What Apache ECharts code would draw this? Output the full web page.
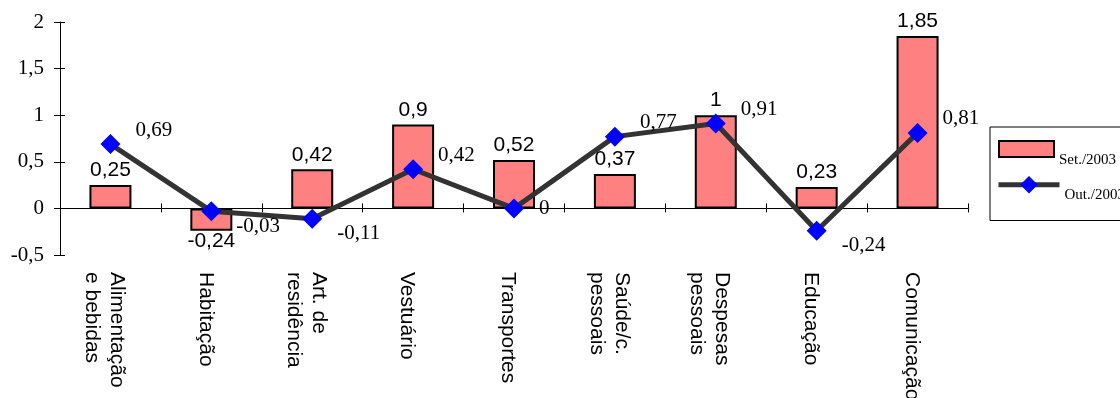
<!DOCTYPE html>
<html>
<head>
<meta charset="utf-8">
<script src="https://cdn.jsdelivr.net/npm/echarts@6/dist/echarts.min.js"></script>
<style>
html,body{margin:0;padding:0;background:#fff;}
#chart{width:1120px;height:398px;}
</style>
</head>
<body>
<div id="chart"></div>
<script>
const categories = ["Alimentação\ne bebidas", "Habitação", "Art. de\nresidência", "Vestuário", "Transportes", "Saúde/c.\npessoais", "Despesas\npessoais", "Educação", "Comunicação"];
const setValues = [0.25, -0.24, 0.42, 0.9, 0.52, 0.37, 1, 0.23, 1.85];
const outValues = [0.69, -0.03, -0.11, 0.42, 0, 0.77, 0.91, -0.24, 0.81];
const seriesNames = ["Set./2003", "Out./2003"];
const yTicks = {min: -0.5, max: 2, interval: 0.5};

const fmt = v => String(v).replace('.', ',');
const serif = '"Liberation Serif", "Times New Roman", serif';
const sans = '"Liberation Sans", Arial, sans-serif';

const chart = echarts.init(document.getElementById('chart'), null, {renderer: 'canvas'});
const grid = {left: 60, right: 152, top: 22, bottom: 143, containLabel: false, outerBoundsMode: 'none'};

const legendText = pad => ({
  fontFamily: serif, fontSize: 15, color: '#000',
  rich: {a: {fontFamily: serif, fontSize: 15, color: '#000', padding: [pad, 0, 0, 0]}}
});
const baseX = {type: 'category', data: categories, gridIndex: 0};
const option = {
  animation: false,
  backgroundColor: '#fff',
  grid: grid,
  legend: [
    {
      orient: 'vertical',
      left: 990, top: 127,
      padding: [13, 80, 53, 8],
      borderColor: '#000', borderWidth: 1,
      itemWidth: 55, itemHeight: 16, icon: 'rect',
      itemStyle: {borderWidth: 2, borderColor: '#000'},
      formatter: n => '{a|' + n + '}',
      textStyle: legendText(22),
      data: [seriesNames[0]]
    },
    {
      orient: 'vertical',
      left: 996, top: 176,
      padding: 0,
      itemWidth: 61, itemHeight: 22, itemGap: 0,
      formatter: n => '{a|' + n + '}',
      textStyle: legendText(20),
      data: [{name: seriesNames[1], lineStyle: {width: 5, color: '#333333'}}]
    }
  ],
  xAxis: [
    Object.assign({}, baseX, {
      position: 'bottom',
      axisLine: {show: false, onZero: false},
      axisTick: {show: false},
      axisLabel: {
        rotate: -90, margin: 17, fontFamily: sans, fontSize: 21, color: '#000', interval: 0,
        formatter: v => v.split('\n').map(s => '{c|' + s + '}').join('\n'),
        rich: {c: {fontFamily: sans, fontSize: 21, color: '#000', lineHeight: 25, padding: [12, 0, 0, 0]}}
      }
    }),
    Object.assign({}, baseX, {
      axisLine: {show: true, onZero: true, lineStyle: {color: '#000', width: 1}},
      axisTick: {show: true, inside: false, length: 5, lineStyle: {color: '#000'}},
      axisLabel: {show: false}
    }),
    Object.assign({}, baseX, {
      axisLine: {show: false, onZero: true},
      axisTick: {show: true, inside: true, length: 4, lineStyle: {color: '#000'}},
      axisLabel: {show: false}
    })
  ],
  yAxis: [
    {
      type: 'value', min: yTicks.min, max: yTicks.max, interval: yTicks.interval,
      axisLine: {show: true, onZero: false, lineStyle: {color: '#000'}},
      axisTick: {show: true, length: 6, lineStyle: {color: '#000'}},
      splitLine: {show: false},
      axisLabel: {margin: 16, fontFamily: serif, fontSize: 21, color: '#000', formatter: v => fmt(v)}
    },
    {
      type: 'value', position: 'left', min: yTicks.min, max: yTicks.max, interval: yTicks.interval,
      axisLine: {show: false, onZero: false},
      axisTick: {show: true, inside: true, length: 5, lineStyle: {color: '#000'}},
      splitLine: {show: false},
      axisLabel: {show: false}
    }
  ],
  series: [
    {
      name: seriesNames[0], type: 'bar', xAxisIndex: 0, yAxisIndex: 0,
      barWidth: 42,
      itemStyle: {color: '#FF8080', borderColor: '#000', borderWidth: 2},
      label: {
        show: true, fontFamily: sans, fontSize: 21, color: '#000', distance: 4,
        position: 'top',
        formatter: p => fmt(p.value)
      },
      z: 2
    },
    {
      name: seriesNames[1], type: 'line', xAxisIndex: 0, yAxisIndex: 0,
      symbol: 'diamond', symbolSize: 20,
      lineStyle: {color: '#333333', width: 5},
      itemStyle: {color: '#0000FF'},
      label: {
        show: true, position: 'right', distance: 15,
        fontFamily: serif, fontSize: 21, color: '#000',
        formatter: p => fmt(p.value)
      },
      z: 3
    }
  ]
};
// negative bar labels go below; line labels shift up for positive, down for negative
option.series[0].data = setValues.map(v => ({value: v, label: v < 0 ? {position: 'bottom', distance: 0} : {}}));
option.series[1].data = outValues.map(v => ({value: v, label: {offset: [0, v > 0 ? -14 : (v < 0 ? 15 : 0)]}}));
chart.setOption(option);
</script>
</body>
</html>
